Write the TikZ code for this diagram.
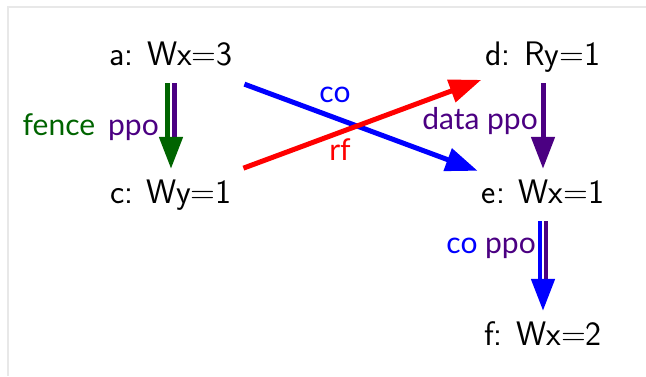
\documentclass[tikz,border=0pt]{standalone}
\usepackage{fontspec}
\newfontfamily\lblfont{Lato}
\usetikzlibrary{arrows.meta}

\definecolor{ppocol}{RGB}{75,0,130}
\definecolor{fencecol}{RGB}{0,100,0}
\definecolor{cocol}{RGB}{0,0,255}
\definecolor{rfcol}{RGB}{255,0,0}
\definecolor{framecol}{RGB}{232,232,232}

\begin{document}
\begin{tikzpicture}[
  x=1pt, y=-1pt,
  event/.style={inner xsep=4pt, inner ysep=0pt, minimum height=52pt,
    text height=23pt, text depth=6pt, font=\fontsize{34}{40}\selectfont\sffamily},
  lbl/.style={inner sep=0pt, font=\fontsize{30}{34}\selectfont\lblfont},
  edge/.style={line width=5pt, -{Triangle[length=32pt, width=23pt]}},
  rail/.style={line width=4.5pt},
]
\useasboundingbox (0,0) rectangle (646,376);
\draw[framecol, line width=2pt] (8,376) -- (8,7) -- (646,7);

% ============ events ============
\node[event] (a) at (171,57)  {a:\hspace{0.4em}Wx=3};
\node[event] (c) at (171,195) {c:\hspace{0.4em}Wy=1};
\node[event] (d) at (543,57)  {d:\hspace{0.4em}Ry=1};
\node[event] (e) at (543,195) {e:\hspace{0.4em}Wx=1};
\node[event] (f) at (543,337) {f:\hspace{0.4em}Wx=2};

% ============ fence + ppo ============
\path (c.north) ++(0,-32) coordinate (acb);
\draw[rail, fencecol, transform canvas={xshift=-3.5pt}] (a) -- (acb);
\draw[rail, ppocol, transform canvas={xshift=3.5pt}] (a) -- (acb);
\draw[edge, fencecol] (acb) -- (c);
\node[lbl, anchor=east] (lfence) at (159,127)
  {\color{fencecol}fence\hspace{13pt}\color{ppocol}ppo};

% ============ data ppo ============
\draw[edge, ppocol] (d) -- (e);
\node[lbl, anchor=east, text=ppocol] (ldata) at (538,121) {data ppo};

% ============ co + ppo ============
\path (f.north) ++(0,-32) coordinate (efb);
\draw[rail, cocol, transform canvas={xshift=-3pt}] (e) -- (efb);
\draw[rail, ppocol, transform canvas={xshift=3pt}] (e) -- (efb);
\draw[edge, cocol] (efb) -- (f);
\node[lbl, anchor=east] (lcoppo) at (536,248)
  {\color{cocol}co \color{ppocol}ppo};

% ============ co / rf across ============
\draw[edge, cocol, shorten <=8pt] (a) -- (e);
\node[lbl, text=cocol] (lco) at (335,95) {co};
\draw[edge, rfcol, shorten <=8pt] (c) -- (d);
\node[lbl, text=rfcol] (lrf) at (340,150) {rf};

\end{tikzpicture}
\end{document}
